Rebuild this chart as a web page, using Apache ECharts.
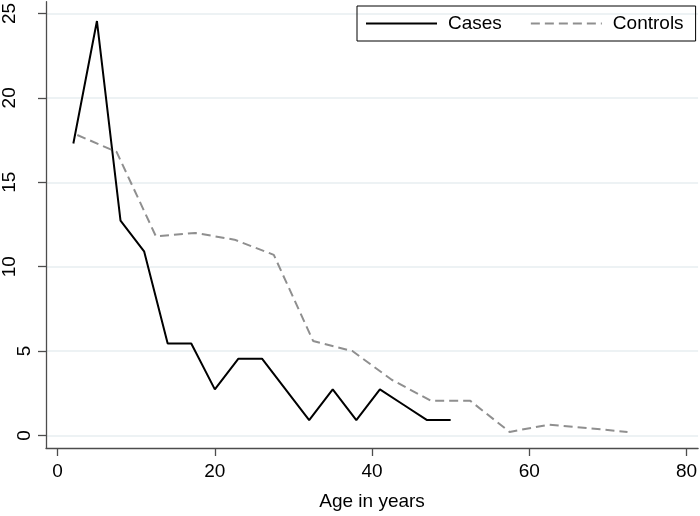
<!DOCTYPE html>
<html>
<head>
<meta charset="utf-8">
<script src="https://cdn.jsdelivr.net/npm/echarts@6/dist/echarts.min.js"></script>
<style>
html,body{margin:0;padding:0;background:#fff;}
#chart{width:700px;height:516px;}
</style>
</head>
<body>
<div id="chart"></div>
<script>
// Data
const casesAge = [2, 5, 8, 11, 14, 17, 20, 23, 26, 29, 32, 35, 38, 41, 44, 47, 50];
const casesPct = [17.3, 24.55, 12.73, 10.91, 5.45, 5.45, 2.73, 4.55, 4.55, 2.73, 0.91, 2.73, 0.91, 2.73, 1.82, 0.91, 0.91];
const controlsAge = [2.5, 7.5, 12.5, 17.5, 22.5, 27.5, 32.5, 37.5, 42.5, 47.5, 52.5, 57.5, 62.5, 67.5, 72.5];
const controlsPct = [17.8, 16.8, 11.8, 12.0, 11.6, 10.7, 5.6, 5.0, 3.3, 2.05, 2.05, 0.21, 0.64, 0.43, 0.21];
const xTicks = [0, 20, 40, 60, 80];
const yTicks = [0, 5, 10, 15, 20, 25];
const yTicksOneDigit = [0, 5];
const yTicksTwoDigit = [10, 15, 20, 25];
const seriesNames = ['Cases', 'Controls'];
const xTitle = 'Age in years';

const font = '"Liberation Sans", Arial, Helvetica, sans-serif';
const axisColor = '#4d4d4d';
const yMin = -0.743, yMax = 25.70;
const chart = echarts.init(document.getElementById('chart'), null, {renderer: 'canvas'});
chart.setOption({
  animation: false,
  backgroundColor: '#fff',
  textStyle: {fontFamily: font},
  grid: {left: 45, right: 0, top: 0, bottom: 64, containLabel: false},
  legend: {
    data: seriesNames,
    left: 357, top: 6,
    orient: 'horizontal',
    padding: [8, 12, 8, 8],
    borderColor: '#000', borderWidth: 1,
    itemWidth: 71, itemHeight: 14, itemGap: 28,
    itemStyle: {opacity: 0},
    textStyle: {fontSize: 19, color: '#000', fontFamily: font, padding: [0, 0, 0, 6]}
  },
  xAxis: {
    type: 'value',
    min: -1.48, max: 81.48,
    name: xTitle, nameLocation: 'middle', nameGap: 44,
    nameTextStyle: {fontSize: 19, color: '#000', fontFamily: font},
    axisLine: {show: true, onZero: false, lineStyle: {color: axisColor, width: 1.3}},
    axisTick: {show: true, length: 8, customValues: xTicks, lineStyle: {color: axisColor, width: 1.3}},
    axisLabel: {customValues: xTicks, fontSize: 19, color: '#000', margin: 14, fontFamily: font},
    splitLine: {show: false}
  },
  yAxis: [
    {
      type: 'value', position: 'left',
      min: yMin, max: yMax,
      axisLine: {show: true, onZero: false, lineStyle: {color: axisColor, width: 1.3}},
      axisTick: {show: true, length: 8, customValues: yTicks, lineStyle: {color: axisColor, width: 1.3}},
      axisLabel: {customValues: yTicksOneDigit, rotate: 90, fontSize: 19, color: '#000', margin: 12, fontFamily: font},
      splitLine: {show: true, lineStyle: {color: '#e7eef0', width: 1.5}}
    },
    {
      type: 'value', position: 'left', offset: 0,
      min: yMin, max: yMax,
      axisLine: {show: false},
      axisTick: {show: false},
      axisLabel: {customValues: yTicksTwoDigit, rotate: 90, fontSize: 19, color: '#000', margin: 27, fontFamily: font},
      splitLine: {show: false}
    }
  ],
  series: [
    {
      name: seriesNames[0], type: 'line', symbol: 'none', yAxisIndex: 0,
      data: casesAge.map((a, i) => [a, casesPct[i]]),
      lineStyle: {color: '#000', width: 2}, itemStyle: {color: '#000'}
    },
    {
      name: seriesNames[1], type: 'line', symbol: 'none', yAxisIndex: 0,
      data: controlsAge.map((a, i) => [a, controlsPct[i]]),
      lineStyle: {color: '#8f8f8f', width: 2, type: [9, 5]}, itemStyle: {color: '#8f8f8f'}
    }
  ]
});
</script>
</body>
</html>
